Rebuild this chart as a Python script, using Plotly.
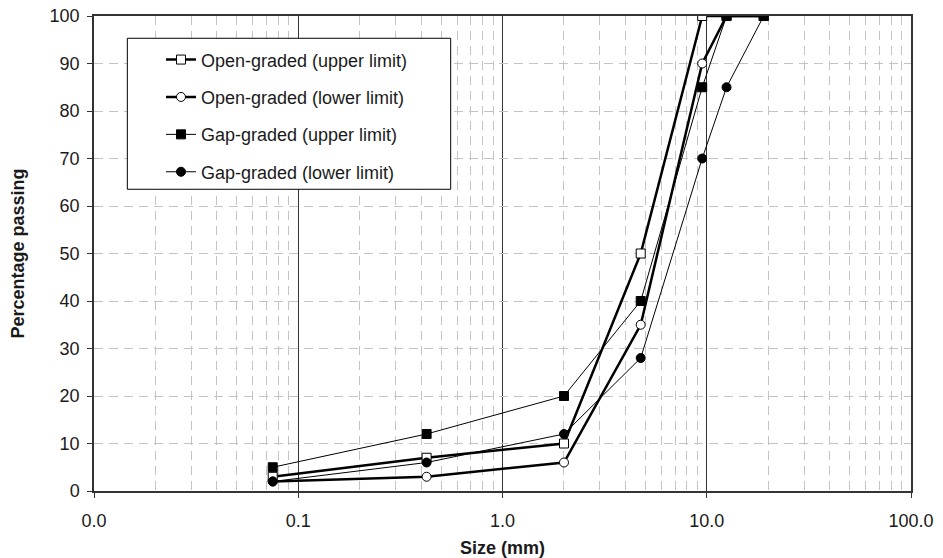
import plotly.graph_objects as go

sizes = [0.075, 0.425, 2.0, 4.75, 9.5, 12.5, 19.0]
open_upper = [3, 7, 10, 50, 100, 100, 100]
open_lower = [2, 3, 6, 35, 90, 100, 100]
gap_upper = [5, 12, 20, 40, 85, 100, 100]
gap_lower = [2, 6, 12, 28, 70, 85, 100]

names = ["Open-graded (upper limit)", "Open-graded (lower limit)",
         "Gap-graded (upper limit)", "Gap-graded (lower limit)"]

FONT = "Liberation Sans, Arial, Helvetica, sans-serif"

fig = go.Figure()
group_rank = {"a": 1, "b": 2, "c": 3, "d": 4}

def add(y, name, symbol, fill, width, group):
    fig.add_trace(go.Scatter(
        x=sizes, y=y, name=name, mode="lines+markers",
        line=dict(color="black", width=width),
        marker=dict(symbol=symbol, size=9, color=fill,
                    line=dict(color="black", width=1)),
        legendgroup=group, legendrank=group_rank[group]))

add(open_upper, names[0], "square", "white", 2.5, "a")
add(open_lower, names[1], "circle", "white", 2.5, "b")
add(gap_lower, names[3], "circle", "black", 1, "d")
add(gap_upper, names[2], "square", "black", 1, "c")

# legend frame (paper coordinates)
fig.add_shape(type="rect", xref="paper", yref="paper",
              x0=0.0408, x1=0.4366, y0=0.6352, y1=0.9531,
              line=dict(color="black", width=1), fillcolor="white",
              layer="above")

fig.update_layout(
    width=943, height=558,
    margin=dict(l=94, r=32, t=16, b=67),
    paper_bgcolor="white", plot_bgcolor="white",
    font=dict(family=FONT, size=18, color="#1a1a1a"),
    showlegend=True,
    legend=dict(x=0.0820, y=0.9466, xanchor="left", yanchor="top",
                borderwidth=0, bgcolor="rgba(0,0,0,0)",
                font=dict(size=18, family=FONT), tracegroupgap=11,
                itemwidth=30, traceorder="grouped"),
)

fig.update_xaxes(
    type="log", range=[-2, 2], dtick=1, tickformat=".1f",
    showline=True, linecolor="#333", linewidth=1.5, mirror=True,
    ticks="outside", ticklen=5, tickcolor="#333", ticklabelstandoff=8,
    showgrid=True, gridcolor="#333", gridwidth=1,
    zeroline=False, automargin=False,
    minor=dict(dtick="D1", showgrid=True, gridcolor="#c4c4c4",
               griddash="9px,6px", gridwidth=1),
    title=dict(text="<b>Size (mm)</b>", font=dict(size=18), standoff=12),
)
fig.update_yaxes(
    range=[0, 100], dtick=10,
    showline=True, linecolor="#333", linewidth=1.5, mirror=True,
    ticks="outside", ticklen=5, tickcolor="#333", ticklabelstandoff=4,
    showgrid=True, gridcolor="#c4c4c4", griddash="9px,6px", gridwidth=1,
    zeroline=False, automargin=False,
    title=dict(text="<b>Percentage passing</b>", font=dict(size=18), standoff=20),
)

fig.write_html("out.html")
